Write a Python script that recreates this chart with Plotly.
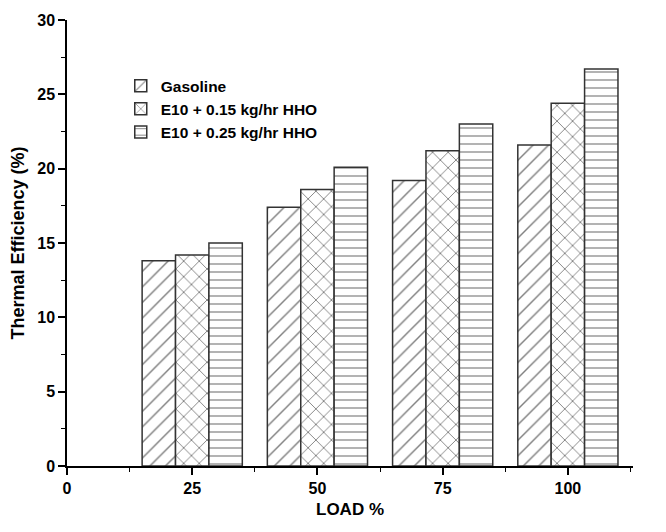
import plotly.graph_objects as go

loads = [25, 50, 75, 100]
gasoline = [13.8, 17.4, 19.2, 21.6]
e10_015 = [14.2, 18.6, 21.2, 24.4]
e10_025 = [15.0, 20.1, 23.0, 26.7]
series_names = ["Gasoline", "E10 + 0.15 kg/hr HHO", "E10 + 0.25 kg/hr HHO"]
patterns = ["/", "x", "-"]
pattern_sizes = [11, 11, 8]
pattern_solidity = [0.13, 0.16, 0.15]

fig = go.Figure()
for name, vals, pat, psz, psol in zip(series_names, [gasoline, e10_015, e10_025],
                                      patterns, pattern_sizes, pattern_solidity):
    fig.add_trace(go.Bar(
        x=loads, y=vals, name=name,
        marker=dict(color="white",
                    line=dict(color="#333333", width=1.5),
                    pattern=dict(shape=pat, fgcolor="black", bgcolor="white",
                                 size=psz, solidity=psol, fillmode="overlay")),
    ))

font_family = "Liberation Sans, Arial, sans-serif"
fig.update_layout(
    width=666, height=532,
    barmode="group", bargap=0.2, bargroupgap=0,
    plot_bgcolor="white", paper_bgcolor="white",
    margin=dict(l=59, r=41, t=12, b=74),
    font=dict(family=font_family, color="black"),
    showlegend=True,
    legend=dict(x=0.095, y=0.89, xanchor="left", yanchor="top",
                bgcolor="rgba(0,0,0,0)", borderwidth=0,
                font=dict(size=15.5, family=font_family, weight="bold"),
                tracegroupgap=0, itemwidth=30),
    xaxis=dict(range=[0, 113], tickmode="array", tickvals=[0, 25, 50, 75, 100],
               ticks="outside", ticklen=7, tickwidth=1.5, tickcolor="black",
               showline=True, linecolor="black", linewidth=1.5,
               showgrid=False, zeroline=False, automargin=False,
               tickfont=dict(size=16, weight="bold"),
               minor=dict(tickvals=[12.5, 37.5, 62.5, 87.5, 112.5], ticks="outside",
                          ticklen=4, tickcolor="black", tickwidth=1.2),
               title=dict(text="LOAD %", font=dict(size=17, weight="bold"), standoff=7)),
    yaxis=dict(range=[0, 30], tickmode="array", tickvals=[0, 5, 10, 15, 20, 25, 30],
               ticks="outside", ticklen=7, tickwidth=1.5, tickcolor="black",
               showline=True, linecolor="black", linewidth=1.5,
               showgrid=False, zeroline=False, automargin=False,
               tickfont=dict(size=16, weight="bold"),
               minor=dict(tickvals=[2.5, 7.5, 12.5, 17.5, 22.5, 27.5], ticks="outside",
                          ticklen=4, tickcolor="black", tickwidth=1.2),
               title=dict(text="Thermal Efficiency (%)", font=dict(size=18, weight="bold"),
                          standoff=10)),
)

fig.write_html("out.html")
